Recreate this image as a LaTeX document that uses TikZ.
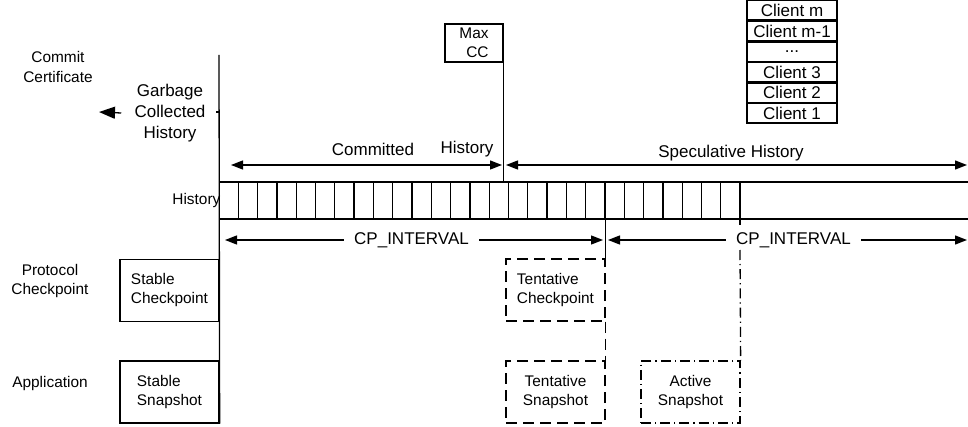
\documentclass[tikz,border=0pt]{standalone}
\usepackage{fontspec}
\setmainfont{Liberation Sans}
\usetikzlibrary{positioning,arrows.meta}

\tikzset{
  lbl/.style={font=\fontsize{7.7}{9.5}\selectfont, align=center},
  biglbl/.style={font=\fontsize{8.5}{10.5}\selectfont, align=center},
  box/.style={draw, lbl, minimum width=49.5pt, minimum height=31pt, inner sep=0pt},
  client/.style={draw, biglbl, minimum width=45pt, minimum height=9.65pt, inner sep=0pt},
  arr/.style={-{Triangle[length=6pt,width=4.5pt]}},
  dblarr/.style={{Triangle[length=6pt,width=4.5pt]}-{Triangle[length=6pt,width=4.5pt]}},
  garr/.style={-{Triangle[length=8pt,width=6pt]}},
  dsh/.style={dash pattern=on 5.5pt off 3pt},
  dashdot/.style={dash pattern=on 5pt off 2pt on 0.6pt off 2pt},
}

\begin{document}
\begin{tikzpicture}[x=0.5pt, y=-0.5pt, line width=0.65pt]
    \useasboundingbox (0,0) rectangle (968,427);

    % left side labels
    \node[lbl] (cc) at (58,67) {Commit\\Certificate};
    \node[biglbl] (gc) at (170,113) {Garbage\\Collected\\History};
    \node[lbl] (pc) at (50,281.5) {Protocol\\Checkpoint};
    \node[lbl] (app) at (50,384) {Application};
    \node[lbl, anchor=east, inner sep=0pt] (histlbl) at (221,201) {History};

    % checkpoint and snapshot boxes
    \node[box, align=left] (stablecp) at (169.5,290.5) {Stable\\Checkpoint};
    \node[box, align=left] (stablesnap) at (169.5,392) {Stable\\Snapshot};
    \node[box, dsh, align=left] (tentcp) at (555.5,290) {Tentative\\Checkpoint};
    \node[box, dsh] (tentsnap) at (555.5,392) {Tentative\\Snapshot};
    \node[box, dashdot] (activesnap) at (690.5,392) {Active\\Snapshot};

    % max commit certificate
    \node[draw, lbl, align=right, minimum width=29pt, minimum height=19pt, inner sep=0pt] (maxcc) at (474,43) {Max\\CC};

    % client stack
    \node[client] (cl1) at (792,113.35) {Client 1};
    \node[client, above=0pt of cl1] (cl2) {Client 2};
    \node[client, above=0pt of cl2] (cl3) {Client 3};
    \node[client, above=0pt of cl3] (cl4) {...};
    \node[client, above=0pt of cl4] (cl5) {Client m-1};
    \node[client, above=0pt of cl5] (cl6) {Client m};

    % history labels
    \node[biglbl] (comm) at (373,149) {Committed};
    \node[biglbl] (commh) at (467,149) {History};
    \node[biglbl] (spec) at (731,153) {Speculative History};
    \node[biglbl, inner xsep=5pt] (cpa) at (411.5,240) {CP\_INTERVAL};
    \node[biglbl, inner xsep=5pt] (cpb) at (793.5,240) {CP\_INTERVAL};

    \coordinate (gctop) at (219,55);
    \coordinate (gctick) at (219,112);
    \coordinate (gcout) at (99,112);
    \coordinate (chl) at (231,165);
    \coordinate (mcc) at (502,165);
    \coordinate (shl) at (506,165);
    \coordinate (shr) at (967,165);
    \coordinate (cpl) at (225,240);
    \coordinate (cpm) at (603,240);
    \coordinate (cpn) at (608,240);
    \coordinate (cpr) at (967,240);
    \coordinate (hrow) at (219,182);
    \coordinate (hend) at (968,219);
    \coordinate (ddtop) at (740,225);
    \coordinate (ddgo) at (740,250);

    % main time line
    \draw (gctop) -- (stablesnap.south east);
    \draw (gctick) -- ++(-3,0);
    \draw[garr] ([xshift=-3pt]gc.west) -- (gcout);
    \draw (maxcc.north east) -- (maxcc.north east |- hrow);

    % history row
    \draw (hrow) -- (hrow -| hend);
    \draw (hrow |- hend) -- (hend);
    \foreach \i in {1,...,26}
        \draw (219+\i*19.3,182) -- (219+\i*19.3,219);
    \draw (tentcp.north east |- hrow) -- (tentcp.north east);
    \draw[dsh] (tentcp.south east) -- (tentsnap.north east);
    \draw (ddtop |- hrow) -- (ddtop);
    \draw[dashdot] (ddgo) -- (activesnap.north east);

    % intervals
    \draw[dblarr] (chl) -- (mcc);
    \draw[dblarr] (shl) -- (shr);
    \draw[arr] (cpa.west) -- (cpl);
    \draw[arr] (cpa.east) -- (cpm);
    \draw[arr] (cpb.west) -- (cpn);
    \draw[arr] (cpb.east) -- (cpr);
\end{tikzpicture}
\end{document}
